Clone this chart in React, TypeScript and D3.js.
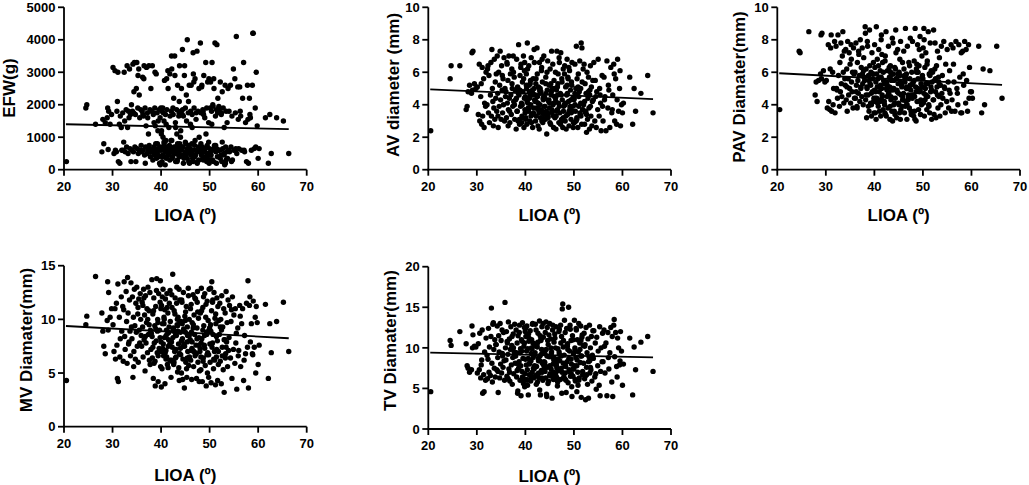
import React from "react";
import * as d3 from "d3";

// LIOA angle (degrees), shared by every panel (same patients)
const lioa = [
  20.5, 24.5, 24.7, 26.5, 27.8, 28.0, 28.2, 28.5, 29.0, 29.2, 29.5, 29.1, 28.9, 29.8,
  30.1, 30.3, 30.5, 30.6, 30.8, 31.0, 31.1, 31.2, 31.4, 31.5, 31.6, 31.8, 31.9, 30.9,
  32.1, 32.2, 32.4, 32.5, 32.6, 32.8, 32.9, 33.0, 33.1, 33.2, 33.3, 33.5, 33.6, 33.7, 33.8, 33.9, 32.3, 33.4,
  34.0, 34.1, 34.2, 34.3, 34.4, 34.5, 34.6, 34.7, 34.8, 34.9, 35.0, 35.1, 35.2, 35.3, 35.4, 35.5, 35.6, 35.7, 35.8, 35.9, 34.35, 35.25,
  36.0, 36.1, 36.2, 36.3, 36.4, 36.5, 36.6, 36.7, 36.8, 36.9, 37.0, 37.1, 37.2, 37.3, 37.4, 37.5, 37.6, 37.7, 37.8, 37.9, 36.25, 36.75, 37.25, 37.75, 36.45, 37.55,
  38.0, 38.1, 38.2, 38.3, 38.4, 38.5, 38.6, 38.7, 38.8, 38.9, 39.0, 39.1, 39.2, 39.3, 39.4, 39.5, 39.6, 39.7, 39.8, 39.9, 38.15, 38.45, 38.75, 39.05, 39.35, 39.65, 39.95, 38.55, 39.25, 39.85,
  40.0, 40.1, 40.2, 40.3, 40.4, 40.5, 40.6, 40.7, 40.8, 40.9, 41.0, 41.1, 41.2, 41.3, 41.4, 41.5, 41.6, 41.7, 41.8, 41.9, 40.05, 40.25, 40.45, 40.65, 40.85, 41.05, 41.25, 41.45, 41.65, 41.85, 40.35, 40.75, 41.15, 41.55,
  42.0, 42.1, 42.2, 42.3, 42.4, 42.5, 42.6, 42.7, 42.8, 42.9, 43.0, 43.1, 43.2, 43.3, 43.4, 43.5, 43.6, 43.7, 43.8, 43.9, 42.05, 42.25, 42.45, 42.65, 42.85, 43.05, 43.25, 43.45, 43.65, 43.85, 42.15, 42.55, 42.95, 43.35, 43.75, 43.15,
  44.0, 44.1, 44.2, 44.3, 44.4, 44.5, 44.6, 44.7, 44.8, 44.9, 45.0, 45.1, 45.2, 45.3, 45.4, 45.5, 45.6, 45.7, 45.8, 45.9, 44.05, 44.25, 44.45, 44.65, 44.85, 45.05, 45.25, 45.45, 45.65, 45.85, 44.35, 45.35,
  46.0, 46.1, 46.2, 46.3, 46.4, 46.5, 46.6, 46.7, 46.8, 46.9, 47.0, 47.1, 47.2, 47.3, 47.4, 47.5, 47.6, 47.7, 47.8, 47.9, 46.05, 46.35, 46.65, 46.95, 47.25, 47.55, 47.85, 46.25, 46.75, 47.45,
  48.0, 48.1, 48.2, 48.3, 48.4, 48.5, 48.6, 48.7, 48.8, 48.9, 49.0, 49.1, 49.2, 49.3, 49.4, 49.5, 49.6, 49.7, 49.8, 49.9, 48.05, 48.35, 48.65, 48.95, 49.25, 49.55, 49.85, 48.25, 48.75, 49.45,
  50.0, 50.1, 50.2, 50.3, 50.4, 50.5, 50.6, 50.7, 50.8, 50.9, 51.0, 51.1, 51.2, 51.3, 51.4, 51.5, 51.6, 51.7, 51.8, 51.9, 50.05, 50.45, 50.85, 51.25, 51.65, 50.25, 50.65, 51.45,
  52.0, 52.1, 52.2, 52.3, 52.4, 52.5, 52.6, 52.7, 52.8, 52.9, 53.0, 53.1, 53.2, 53.3, 53.4, 53.5, 53.6, 53.7, 53.8, 53.9, 52.45, 53.25,
  54.0, 54.1, 54.3, 54.4, 54.6, 54.7, 54.9, 55.0, 55.2, 55.3, 55.5, 55.6, 55.8, 55.9, 54.5, 55.4,
  56.0, 56.2, 56.4, 56.6, 56.8, 57.0, 57.2, 57.4, 57.6, 57.8, 56.3, 57.1, 57.9,
  58.0, 58.2, 58.4, 58.6, 58.8, 59.0, 59.2, 59.4, 59.6, 59.8, 58.3, 58.9, 59.5,
  60.0, 61.5, 62.1, 62.7, 62.4, 63.8, 65.2, 66.3, 60.2,
  38.3, 38.9, 39.4, 39.8, 40.2, 40.6, 41.0, 41.4, 41.8, 42.2, 42.6, 43.0, 43.4, 43.8, 44.2, 44.6, 45.0, 45.4, 45.8, 46.2,
  46.6, 47.0, 47.4, 47.8, 48.2, 48.6, 49.0, 49.4, 49.8, 50.2, 50.6, 51.0, 51.4, 51.8, 52.2, 52.6, 53.0, 53.4, 44.0, 46.4,
];

// EFW (g)
const efw = [
  250, 1900, 2000, 1400, 550, 1550, 800, 1450, 1900, 1800, 1400, 620, 1600, 1700,
  3150, 500, 3050, 600, 550, 2100, 3000, 250, 1400, 200, 1650, 1300, 600, 1800,
  1750, 600, 3000, 1500, 550, 1850, 700, 3200, 1300, 500, 1800, 3100, 650, 1700, 250, 2000, 850, 1600,
  600, 1800, 3250, 550, 2400, 3300, 700, 1700, 250, 2500, 3300, 650, 1900, 500, 3100, 2300, 1600, 600, 1850, 750, 1750, 2900,
  550, 1800, 2850, 600, 1650, 3200, 450, 1900, 700, 1350, 3150, 500, 1750, 600, 1100, 3200, 650, 1850, 400, 2500, 1700, 200, 1600, 550, 2800, 750,
  1800, 600, 3200, 550, 1700, 700, 450, 1900, 1350, 600, 2950, 500, 1750, 650, 1500, 400, 1850, 200, 1600, 700, 550, 1750, 3000, 350, 1200, 600, 1900, 1450, 800, 150,
  600, 1200, 1800, 450, 1000, 700, 1500, 2750, 550, 1700, 900, 350, 1850, 600, 3050, 500, 1300, 750, 2950, 650, 1100, 400, 1750, 800, 150, 1400, 550, 2500, 700, 1650, 1900, 600, 2800, 450,
  550, 1800, 3100, 650, 400, 1700, 2200, 700, 3500, 500, 1300, 600, 1850, 250, 2600, 750, 450, 1750, 3200, 600, 900, 350, 1900, 550, 2900, 700, 1100, 500, 1650, 800, 3500, 600, 1450, 300, 2100, 650,
  600, 1800, 2500, 450, 3700, 700, 1650, 350, 2900, 550, 1900, 800, 2300, 500, 4000, 650, 1750, 250, 2600, 600, 1200, 700, 1850, 400, 3200, 550, 1500, 650, 2100, 200, 1700, 500,
  650, 1800, 2600, 500, 1700, 350, 3600, 600, 1900, 750, 2800, 450, 1550, 600, 3650, 250, 1800, 700, 2500, 550, 1400, 800, 2950, 400, 1750, 600, 1000, 500, 2700, 200,
  600, 3900, 1750, 450, 2600, 700, 1850, 300, 2900, 550, 1600, 650, 3300, 400, 1900, 750, 2700, 500, 1450, 200, 550, 2550, 1800, 650, 1100, 350, 2800, 600, 1700, 500,
  650, 1900, 2700, 450, 1800, 3300, 600, 1950, 250, 2500, 700, 3900, 1650, 550, 1850, 3850, 400, 2200, 600, 1950, 500, 1400, 2800, 750, 1750, 300, 2000, 650,
  1850, 600, 2700, 450, 1700, 250, 2400, 650, 1900, 500, 1300, 150, 2600, 700, 1800, 550, 1450, 350, 2500, 600, 1750, 200,
  1800, 550, 2600, 700, 1650, 300, 3100, 600, 2800, 1750, 4100, 500, 2550, 1550, 250, 650,
  650, 2550, 1650, 600, 2200, 3300, 550, 1450, 250, 2600, 1800, 600, 1550,
  200, 2200, 1600, 600, 2600, 4200, 650, 1900, 3000, 1350, 1700, 4200, 700,
  350, 1600, 200, 500, 1700, 1600, 1500, 500, 650,
  300, 800, 450, 650, 250, 850, 400, 700, 300, 900, 500, 250, 800, 400, 650, 200, 850, 350, 750, 450,
  250, 900, 550, 300, 800, 400, 650, 250, 850, 450, 300, 750, 200, 600, 350, 850, 450, 300, 1000, 1300,
];

// AV diameter (mm)
const av = [
  2.4, 5.6, 6.4, 6.4, 3.7, 3.9, 4.8, 5.2, 7.2, 7.3, 5.3, 4.9, 4.7, 5.0,
  5.1, 3.4, 6.5, 3.0, 4.5, 2.8, 6.3, 3.3, 5.6, 2.6, 4.1, 3.9, 6.0, 5.3,
  4.0, 6.2, 3.5, 5.8, 2.9, 4.6, 6.6, 3.3, 7.4, 5.0, 4.2, 3.8, 6.8, 3.1, 5.4, 4.4, 6.4, 2.7,
  5.9, 3.6, 7.0, 4.7, 2.6, 6.0, 3.9, 5.2, 7.3, 4.3, 3.1, 6.4, 4.9, 3.5, 5.6, 4.0, 6.9, 3.0, 5.0, 4.5, 3.3, 5.8,
  4.8, 3.2, 6.6, 4.1, 5.5, 3.7, 7.0, 4.4, 2.9, 5.9, 4.6, 3.4, 6.2, 5.0, 3.9, 7.0, 4.2, 5.7, 3.1, 4.9, 6.5, 3.6, 5.3, 4.0, 2.7, 6.0,
  4.3, 2.5, 6.8, 3.6, 5.1, 3.0, 7.7, 4.6, 2.8, 5.8, 3.9, 6.5, 4.1, 3.3, 5.4, 4.8, 7.0, 2.6, 6.1, 3.7, 4.4, 5.0, 3.1, 6.3, 4.0, 5.6, 3.5, 4.7, 2.9, 6.6,
  4.5, 3.2, 5.9, 2.8, 7.8, 4.1, 3.6, 6.4, 4.8, 3.0, 5.3, 4.0, 6.9, 3.4, 4.6, 2.6, 5.6, 3.8, 7.4, 4.3, 3.1, 5.0, 6.2, 3.7, 4.4, 5.5, 2.9, 4.9, 3.5, 6.6, 4.2, 5.2, 3.3, 4.7,
  4.2, 3.0, 5.6, 3.8, 7.5, 4.5, 2.7, 5.1, 3.5, 6.6, 4.0, 3.2, 4.8, 6.1, 3.6, 5.4, 2.9, 4.3, 7.0, 3.9, 4.6, 3.3, 5.9, 4.1, 2.5, 5.0, 3.7, 6.8, 4.4, 3.1, 5.3, 3.8, 4.9, 6.3, 3.4, 4.7,
  4.4, 3.1, 5.7, 3.6, 2.2, 4.9, 6.7, 3.3, 4.2, 5.2, 3.8, 6.2, 2.8, 4.6, 7.3, 3.5, 5.0, 4.0, 2.6, 5.5, 3.9, 4.7, 6.0, 3.2, 4.3, 2.9, 5.3, 3.7, 6.5, 4.1, 3.4, 4.8,
  4.5, 3.2, 6.0, 2.5, 4.9, 7.3, 3.7, 5.3, 4.1, 2.9, 6.6, 3.5, 4.7, 7.2, 3.0, 5.6, 4.3, 2.6, 6.2, 3.9, 5.0, 3.3, 4.6, 6.9, 2.8, 5.4, 3.6, 4.2, 5.9, 3.1,
  4.0, 6.4, 3.0, 5.1, 2.5, 4.6, 6.8, 3.4, 5.6, 4.2, 2.7, 6.1, 3.8, 4.9, 3.1, 5.4, 6.6, 3.6, 4.4, 2.9, 5.9, 3.3, 4.7, 6.3, 3.9, 5.2, 2.6, 4.1, 5.7, 3.5,
  4.3, 2.9, 6.5, 3.6, 5.0, 7.6, 3.2, 4.6, 2.6, 5.9, 3.9, 4.8, 6.7, 3.4, 4.1, 7.8, 2.8, 5.4, 3.7, 6.2, 4.4, 3.0, 5.1, 3.5, 7.5, 4.0, 5.6, 3.3,
  4.0, 6.5, 2.8, 5.3, 3.5, 4.7, 2.3, 6.0, 3.1, 4.4, 5.7, 3.8, 2.5, 4.9, 6.4, 3.3, 5.1, 2.7, 4.2, 5.5, 3.6, 4.6,
  4.3, 6.6, 3.0, 5.5, 2.6, 4.8, 3.7, 6.8, 3.3, 5.0, 4.1, 2.4, 5.8, 3.9, 4.5, 4.6,
  3.0, 5.7, 4.5, 2.4, 6.7, 3.8, 4.9, 2.6, 6.3, 3.5, 4.3, 5.2, 3.7,
  4.6, 6.5, 3.0, 5.6, 2.8, 6.8, 3.6, 5.0, 2.7, 4.0, 5.9, 4.3, 6.1,
  3.5, 5.7, 2.8, 3.6, 5.0, 4.7, 5.8, 3.5, 4.1,
  3.6, 4.9, 3.2, 4.4, 5.2, 3.8, 4.6, 3.4, 5.0, 4.2, 3.7, 4.8, 3.0, 4.5, 5.3, 3.5, 4.1, 4.9, 3.3, 4.4,
  5.1, 3.9, 4.6, 3.2, 4.0, 5.2, 3.6, 4.3, 3.9, 4.7, 3.1, 4.5, 5.0, 3.7, 4.2, 3.4, 4.8, 3.9, 4.4, 3.6,
];

// PAV diameter (mm)
const pav = [
  3.7, 7.3, 7.2, 8.5, 4.6, 5.4, 4.2, 5.5, 8.3, 8.4, 6.1, 5.6, 5.9, 5.4,
  5.5, 3.8, 7.7, 4.2, 3.7, 7.5, 8.3, 3.6, 6.0, 4.0, 5.0, 7.9, 3.5, 6.2,
  7.6, 5.0, 4.4, 8.3, 5.8, 3.9, 6.6, 4.8, 7.8, 5.3, 4.5, 8.5, 6.0, 4.1, 7.3, 5.6, 4.9, 7.0,
  5.2, 7.4, 4.3, 6.2, 3.6, 7.9, 5.6, 4.6, 7.2, 5.0, 6.5, 4.1, 7.7, 5.4, 4.8, 6.0, 3.8, 7.5, 5.9, 4.4, 5.1, 6.8,
  6.0, 4.4, 7.8, 5.2, 3.9, 6.6, 5.5, 4.7, 7.1, 5.8, 4.2, 8.0, 5.0, 6.3, 4.5, 7.5, 5.3, 4.0, 6.9, 5.7, 4.8, 7.3, 5.1, 6.1, 3.8, 5.9,
  5.5, 8.8, 4.3, 6.2, 3.2, 5.0, 7.6, 4.6, 5.8, 3.6, 8.6, 5.3, 4.1, 6.0, 3.3, 7.2, 4.8, 5.6, 6.6, 4.4, 8.4, 5.1, 3.9, 6.4, 4.7, 5.9, 3.5, 7.9, 5.2, 4.2,
  4.9, 6.3, 3.5, 5.4, 8.8, 4.4, 6.8, 5.1, 3.9, 7.4, 5.7, 4.2, 6.1, 3.3, 8.0, 5.0, 4.6, 6.6, 3.7, 5.5, 7.7, 4.8, 5.9, 4.1, 6.4, 3.6, 5.2, 8.3, 4.5, 6.0, 3.1, 5.6, 4.3, 7.1,
  5.3, 4.0, 6.7, 3.4, 8.5, 5.0, 4.5, 6.1, 3.8, 7.6, 4.8, 5.7, 3.1, 6.4, 4.3, 5.5, 3.6, 8.1, 4.9, 5.9, 4.2, 7.0, 3.3, 5.2, 4.6, 6.3, 3.9, 5.8, 4.4, 7.8, 3.5, 5.4, 4.7, 6.0, 3.0, 5.1,
  5.0, 3.6, 6.3, 4.4, 8.6, 5.6, 3.2, 4.8, 7.4, 5.3, 4.1, 6.0, 3.5, 5.8, 7.9, 4.6, 5.2, 3.9, 6.6, 4.3, 5.5, 3.4, 7.2, 4.9, 5.9, 4.0, 6.8, 3.7, 5.1, 4.5, 6.2, 3.1,
  4.7, 6.2, 3.5, 5.4, 8.7, 4.2, 5.9, 3.1, 7.6, 5.0, 4.4, 6.6, 3.8, 5.6, 8.1, 4.9, 3.4, 6.0, 4.6, 5.3, 7.3, 3.9, 5.1, 4.3, 6.4, 3.6, 7.9, 5.7, 4.0, 5.2,
  5.4, 3.3, 6.7, 4.5, 8.7, 5.1, 3.0, 6.0, 4.2, 7.7, 5.6, 3.7, 6.4, 4.8, 8.2, 3.4, 5.3, 4.0, 7.0, 5.8, 4.6, 3.1, 6.2, 5.0, 7.4, 4.3, 5.7, 3.6, 6.5, 4.9,
  5.6, 4.1, 8.7, 3.3, 6.3, 5.0, 7.2, 4.5, 3.7, 6.7, 5.3, 8.5, 4.0, 5.9, 3.5, 7.8, 4.8, 6.1, 3.1, 5.4, 7.5, 4.3, 6.5, 3.9, 5.1, 8.0, 4.6, 5.8,
  6.0, 4.3, 8.6, 3.4, 5.5, 7.8, 4.8, 3.2, 6.4, 5.1, 7.3, 3.8, 5.7, 4.5, 6.9, 3.3, 5.2, 4.0, 7.6, 4.7, 6.2, 5.4,
  5.8, 4.4, 7.9, 5.1, 3.5, 6.5, 4.2, 7.4, 5.4, 3.8, 6.1, 4.7, 7.7, 3.6, 5.0, 4.9,
  4.3, 7.5, 5.4, 3.6, 7.9, 5.0, 4.0, 7.7, 5.7, 3.5, 6.5, 4.7, 7.2,
  3.5, 7.3, 5.2, 7.9, 4.1, 5.5, 3.6, 7.7, 6.3, 4.8, 5.9, 7.4, 4.4,
  4.8, 7.6, 3.5, 4.0, 6.2, 6.1, 7.6, 4.4, 4.4,
  4.6, 5.5, 4.0, 5.9, 4.4, 5.1, 4.8, 5.7, 4.2, 5.3, 4.9, 6.1, 4.5, 5.0, 4.1, 5.6, 4.7, 5.4, 4.3, 5.8,
  5.0, 4.6, 5.2, 4.4, 5.5, 4.8, 6.0, 4.2, 5.1, 4.7, 5.3, 4.5, 5.9, 4.9, 4.3, 5.6, 4.6, 5.2, 4.0, 5.7,
];

// MV diameter (mm)
const mv = [
  4.3, 9.5, 10.3, 14.0, 10.6, 8.9, 7.5, 6.8, 13.5, 12.5, 10.2, 9.0, 9.9, 11.0,
  9.5, 7.0, 11.0, 6.3, 11.5, 4.5, 13.3, 4.2, 10.2, 6.5, 8.2, 12.1, 8.9, 7.6,
  11.2, 6.1, 13.5, 8.4, 7.2, 12.6, 9.8, 5.9, 13.9, 10.6, 7.7, 11.8, 8.9, 6.6, 13.4, 9.3, 10.9, 7.9,
  8.2, 12.1, 4.6, 10.2, 7.0, 12.8, 9.4, 6.3, 11.5, 8.8, 13.0, 7.5, 10.5, 6.0, 11.9, 9.0, 7.8, 12.4, 10.0, 8.5, 5.6, 11.1,
  7.5, 11.6, 9.3, 6.5, 12.8, 8.1, 10.4, 5.2, 12.2, 7.8, 9.7, 11.0, 6.9, 13.0, 8.6, 10.8, 6.2, 12.5, 9.0, 7.2, 11.3, 8.4, 10.0, 5.8, 12.0, 9.5,
  8.7, 13.7, 6.4, 10.5, 4.5, 12.0, 7.8, 9.4, 3.8, 11.2, 8.0, 13.8, 6.9, 10.0, 4.2, 12.4, 7.3, 9.0, 11.6, 5.6, 8.4, 10.8, 6.1, 12.7, 9.7, 7.0, 11.0, 5.9, 8.9, 13.6,
  7.9, 11.3, 5.4, 9.6, 12.8, 6.6, 10.2, 8.3, 4.0, 11.9, 7.1, 9.0, 12.4, 5.8, 10.6, 7.5, 8.8, 11.5, 6.2, 9.8, 3.7, 12.1, 7.7, 10.0, 6.9, 8.5, 11.1, 5.5, 9.3, 12.7, 7.3, 10.9, 6.5, 8.1,
  8.0, 6.2, 12.3, 7.4, 14.2, 9.1, 5.8, 10.8, 7.0, 12.0, 8.6, 6.5, 11.5, 9.5, 5.1, 10.2, 7.7, 12.8, 6.8, 9.8, 4.6, 11.1, 8.3, 6.0, 10.5, 7.2, 13.0, 8.9, 5.5, 11.8, 7.9, 9.2, 6.4, 10.0, 4.3, 8.5,
  7.3, 9.8, 5.0, 11.6, 8.2, 6.3, 12.5, 7.7, 3.6, 10.3, 8.8, 6.0, 11.2, 4.6, 9.3, 7.0, 12.9, 5.7, 10.0, 8.0, 6.7, 11.8, 4.4, 9.1, 7.5, 10.7, 5.4, 8.5, 12.2, 6.5, 9.6, 7.9,
  8.1, 6.2, 11.4, 4.4, 9.7, 7.1, 12.3, 5.6, 10.4, 8.6, 6.6, 11.9, 7.6, 4.5, 9.2, 12.6, 6.0, 10.1, 8.3, 5.2, 11.0, 7.3, 9.5, 12.0, 6.8, 10.7, 4.2, 8.8, 7.0, 11.6,
  7.0, 10.6, 5.3, 12.9, 8.2, 4.2, 11.1, 6.4, 9.4, 7.6, 12.4, 5.7, 10.2, 3.8, 8.8, 11.7, 6.9, 9.9, 4.6, 12.8, 7.3, 10.8, 6.1, 8.5, 11.4, 5.0, 9.0, 7.8, 12.1, 6.7,
  9.2, 6.0, 12.9, 4.1, 10.8, 7.4, 11.6, 8.6, 5.4, 12.5, 7.0, 10.1, 3.9, 9.6, 6.5, 12.0, 8.0, 11.2, 5.8, 9.9, 7.7, 13.5, 6.3, 10.5, 4.3, 8.9, 11.8, 7.2,
  8.6, 11.5, 6.1, 10.0, 4.0, 12.2, 7.4, 9.3, 5.3, 11.0, 3.2, 8.1, 10.6, 6.8, 12.6, 7.9, 9.7, 5.6, 11.8, 7.1, 9.0, 6.4,
  8.3, 11.3, 6.4, 9.8, 4.5, 12.1, 7.2, 10.4, 5.9, 11.0, 8.7, 3.5, 9.2, 6.6, 10.9, 7.8,
  7.1, 11.3, 5.6, 9.6, 11.0, 4.3, 8.5, 6.8, 11.5, 7.4, 10.3, 6.2, 13.6,
  3.6, 11.3, 7.9, 9.6, 6.8, 11.7, 7.4, 10.2, 11.2, 9.7, 12.1, 6.7, 5.0,
  5.8, 11.4, 4.5, 6.9, 9.6, 9.8, 11.6, 7.0, 7.6,
  7.4, 9.1, 6.6, 8.3, 7.0, 9.6, 6.3, 8.7, 7.7, 6.1, 8.9, 7.2, 9.4, 6.8, 8.0, 7.5, 9.9, 6.4, 8.5, 7.1,
  9.2, 6.9, 8.2, 7.6, 6.5, 9.0, 7.3, 8.6, 6.7, 9.5, 7.8, 6.2, 8.4, 7.0, 9.3, 6.6, 8.1, 7.4, 8.8, 7.9,
];

// TV diameter (mm)
const tv = [
  4.6, 10.9, 10.3, 12.0, 10.5, 7.8, 7.5, 7.0, 12.7, 11.6, 10.2, 10.0, 7.3, 10.1,
  6.9, 10.5, 7.3, 11.8, 6.3, 8.5, 12.2, 4.4, 6.7, 4.6, 9.5, 6.0, 11.2, 7.9,
  9.1, 6.2, 12.4, 7.0, 10.1, 6.6, 11.4, 14.9, 8.1, 5.8, 12.9, 9.8, 7.5, 11.0, 6.4, 10.4, 8.6, 13.1,
  10.4, 7.3, 12.7, 8.8, 4.5, 11.5, 9.5, 6.3, 13.0, 8.0, 10.9, 6.9, 12.2, 9.0, 7.6, 11.9, 8.4, 6.0, 15.6, 10.0, 7.1, 9.3,
  8.5, 12.0, 6.5, 10.6, 9.2, 13.2, 7.4, 11.1, 5.9, 9.8, 12.6, 7.9, 10.3, 5.5, 8.8, 11.7, 6.8, 9.5, 12.9, 8.1, 10.8, 7.0, 11.4, 9.0, 6.2, 10.0,
  9.0, 12.2, 6.4, 10.6, 4.4, 11.5, 7.5, 8.3, 12.8, 6.0, 9.9, 4.1, 11.0, 7.1, 13.1, 8.7, 5.6, 10.2, 12.5, 6.8, 9.4, 4.7, 11.9, 7.8, 10.8, 6.2, 12.0, 8.0, 9.6, 5.2,
  8.6, 11.4, 6.1, 12.7, 7.3, 9.9, 4.2, 10.8, 6.7, 8.2, 12.1, 5.9, 9.3, 11.0, 7.0, 13.0, 8.8, 6.3, 10.3, 7.8, 12.4, 9.6, 5.4, 11.7, 8.0, 6.6, 10.0, 12.9, 7.5, 9.1, 6.0, 11.2, 8.4, 10.6,
  9.4, 6.5, 12.2, 7.7, 10.5, 5.8, 11.8, 8.4, 6.9, 13.3, 9.0, 4.2, 10.9, 7.2, 12.6, 8.1, 6.0, 11.3, 9.7, 7.5, 12.9, 5.5, 10.1, 8.7, 6.3, 11.5, 9.2, 7.0, 13.0, 8.3, 6.6, 10.7, 4.8, 9.8, 7.9, 11.0,
  8.2, 11.9, 6.3, 9.8, 4.0, 12.5, 7.6, 10.4, 5.9, 8.9, 13.0, 6.8, 11.1, 7.4, 9.5, 3.8, 12.2, 8.0, 6.1, 10.7, 7.1, 13.2, 9.0, 5.6, 11.6, 7.8, 10.0, 6.5, 12.8, 8.5, 4.3, 9.3,
  8.7, 11.2, 6.7, 12.6, 7.8, 7.5, 5.3, 9.9, 7.2, 12.0, 12.3, 8.4, 6.1, 10.6, 9.0, 4.4, 14.8, 15.4, 10.1, 6.4, 11.7, 8.1, 5.8, 9.5, 12.8, 7.0, 10.9, 6.9, 8.6, 11.4,
  9.1, 6.2, 11.9, 7.7, 4.5, 12.4, 8.3, 10.5, 5.7, 15.0, 7.1, 9.6, 12.8, 6.5, 10.9, 8.0, 4.0, 11.5, 7.4, 9.3, 13.4, 6.0, 10.2, 8.7, 12.3, 5.2, 11.0, 7.8, 9.8, 6.8,
  7.4, 13.4, 10.0, 5.9, 8.8, 12.2, 4.6, 11.0, 7.0, 9.5, 13.0, 6.3, 10.6, 8.2, 12.7, 3.9, 9.0, 11.6, 6.7, 10.3, 7.8, 12.4, 5.4, 9.8, 11.3, 6.1, 8.5, 10.9,
  8.1, 11.8, 6.2, 10.4, 3.6, 12.5, 7.6, 9.4, 5.5, 11.1, 3.8, 8.9, 12.8, 6.9, 10.0, 7.3, 11.4, 5.9, 9.1, 12.1, 6.6, 8.4,
  8.7, 12.1, 6.4, 10.6, 4.9, 11.3, 7.8, 9.6, 5.4, 12.6, 7.1, 10.0, 8.3, 11.8, 6.8, 4.1,
  8.3, 12.2, 6.9, 10.6, 4.1, 11.9, 7.4, 9.4, 12.5, 5.8, 10.2, 8.8, 11.4,
  4.0, 12.8, 8.9, 11.9, 7.7, 11.2, 10.0, 7.9, 12.0, 9.6, 13.5, 6.4, 8.4,
  5.4, 11.2, 4.2, 7.3, 10.1, 10.7, 11.4, 7.1, 8.0,
  7.2, 9.4, 6.4, 10.6, 7.9, 8.7, 6.1, 9.9, 7.4, 10.3, 6.8, 8.4, 6.3, 9.6, 7.7, 10.9, 6.6, 8.9, 7.0, 10.0,
  6.2, 9.2, 7.5, 8.1, 6.9, 10.4, 7.3, 8.6, 6.5, 9.7, 7.8, 6.0, 9.0, 7.1, 10.2, 6.7, 8.3, 7.6, 9.3, 6.4,
];

// Linear regression lines (x from/to, y at each end)
const fitX = [20.4, 66.3];
const efwFit = [1400, 1250];
const avFit = [4.95, 4.35];
const pavFit = [5.94, 5.22];
const mvFit = [9.38, 8.24];
const tvFit = [9.4, 8.83];

const xTicks = [20, 30, 40, 50, 60, 70];
const efwTicks = [0, 1000, 2000, 3000, 4000, 5000];
const avTicks = [0, 2, 4, 6, 8, 10];
const pavTicks = [0, 2, 4, 6, 8, 10];
const mvTicks = [0, 5, 10, 15];
const tvTicks = [0, 5, 10, 15, 20];

const xTitle = "LIOA (º)";
const yTitles = ["EFW(g)", "AV diameter (mm)", "PAV Diamater(mm)", "MV Diamater(mm)", "TV Diamater(mm)"];

const FONT = "Arial, 'Liberation Sans', Helvetica, sans-serif";

type PanelProps = {
  values: number[];
  fit: number[];
  ticks: number[];
  title: string;
  left: number;
  right: number;
  top: number;
  bottom: number;
  titleX: number;
  titleY: number;
  xTitleDy: number;
};

function Panel(p: PanelProps) {
  const yMax = p.ticks[p.ticks.length - 1];
  const x = d3.scaleLinear().domain([20, 70]).range([p.left, p.right]);
  const y = d3.scaleLinear().domain([0, yMax]).range([p.bottom, p.top]);
  const n = Math.min(lioa.length, p.values.length);
  const pts = d3.range(n).map((i) => [lioa[i], p.values[i]]);
  const line = d3
    .line<number>()
    .x((d) => x(d))
    .y((_, i) => y(p.fit[i]));
  const sw = 1.8;
  return (
    <g>
      {pts.map((d, i) => (
        <circle key={i} cx={x(d[0])} cy={y(d[1])} r={2.7} fill="#000" />
      ))}
      <path d={line(fitX) || ""} stroke="#000" strokeWidth={1.8} fill="none" />
      <line x1={p.left} x2={p.left} y1={y(0) + sw / 2} y2={y(yMax)} stroke="#000" strokeWidth={sw} />
      <line x1={p.left - sw / 2} x2={x(70)} y1={p.bottom} y2={p.bottom} stroke="#000" strokeWidth={sw} />
      {p.ticks.map((t) => (
        <g key={"y" + t}>
          <line x1={p.left - 6} x2={p.left} y1={y(t)} y2={y(t)} stroke="#000" strokeWidth={sw} />
          <text x={p.left - 8.5} y={y(t)} dy="0.36em" textAnchor="end" fontFamily={FONT} fontWeight="bold" fontSize={13}>
            {t}
          </text>
        </g>
      ))}
      {xTicks.map((t) => (
        <g key={"x" + t}>
          <line x1={x(t)} x2={x(t)} y1={p.bottom} y2={p.bottom + 6} stroke="#000" strokeWidth={sw} />
          <text x={x(t)} y={p.bottom + 21} textAnchor="middle" fontFamily={FONT} fontWeight="bold" fontSize={13}>
            {t}
          </text>
        </g>
      ))}
      <text x={(p.left + p.right) / 2} y={p.bottom + p.xTitleDy} textAnchor="middle" fontFamily={FONT} fontWeight="bold" fontSize={17}>
        {xTitle}
      </text>
      <text
        transform={`translate(${p.titleX},${p.titleY}) rotate(-90)`}
        textAnchor="middle"
        fontFamily={FONT}
        fontWeight="bold"
        fontSize={17}
      >
        {p.title}
      </text>
    </g>
  );
}

export default function App() {
  const panels: PanelProps[] = [
    { values: efw, fit: efwFit, ticks: efwTicks, title: yTitles[0], left: 64, right: 306.7, top: 7.3, bottom: 169.7, titleX: 15, titleY: 88, xTitleDy: 51 },
    { values: av, fit: avFit, ticks: avTicks, title: yTitles[1], left: 428.3, right: 671, top: 7.3, bottom: 169.7, titleX: 398.5, titleY: 85, xTitleDy: 51 },
    { values: pav, fit: pavFit, ticks: pavTicks, title: yTitles[2], left: 777.3, right: 1020, top: 7.3, bottom: 169.7, titleX: 745, titleY: 87, xTitleDy: 51 },
    { values: mv, fit: mvFit, ticks: mvTicks, title: yTitles[3], left: 64, right: 306.7, top: 265.7, bottom: 426.7, titleX: 31.7, titleY: 340, xTitleDy: 54 },
    { values: tv, fit: tvFit, ticks: tvTicks, title: yTitles[4], left: 428.3, right: 671, top: 266.7, bottom: 429, titleX: 395.7, titleY: 340.5, xTitleDy: 53 },
  ];
  return (
    <svg width={1029} height={485} viewBox="0 0 1029 485" style={{ position: "absolute", left: 0, top: 0, background: "#fff" }}>
      <rect x={0} y={0} width={1029} height={485} fill="#fff" />
      {panels.map((p, i) => (
        <Panel key={i} {...p} />
      ))}
    </svg>
  );
}
